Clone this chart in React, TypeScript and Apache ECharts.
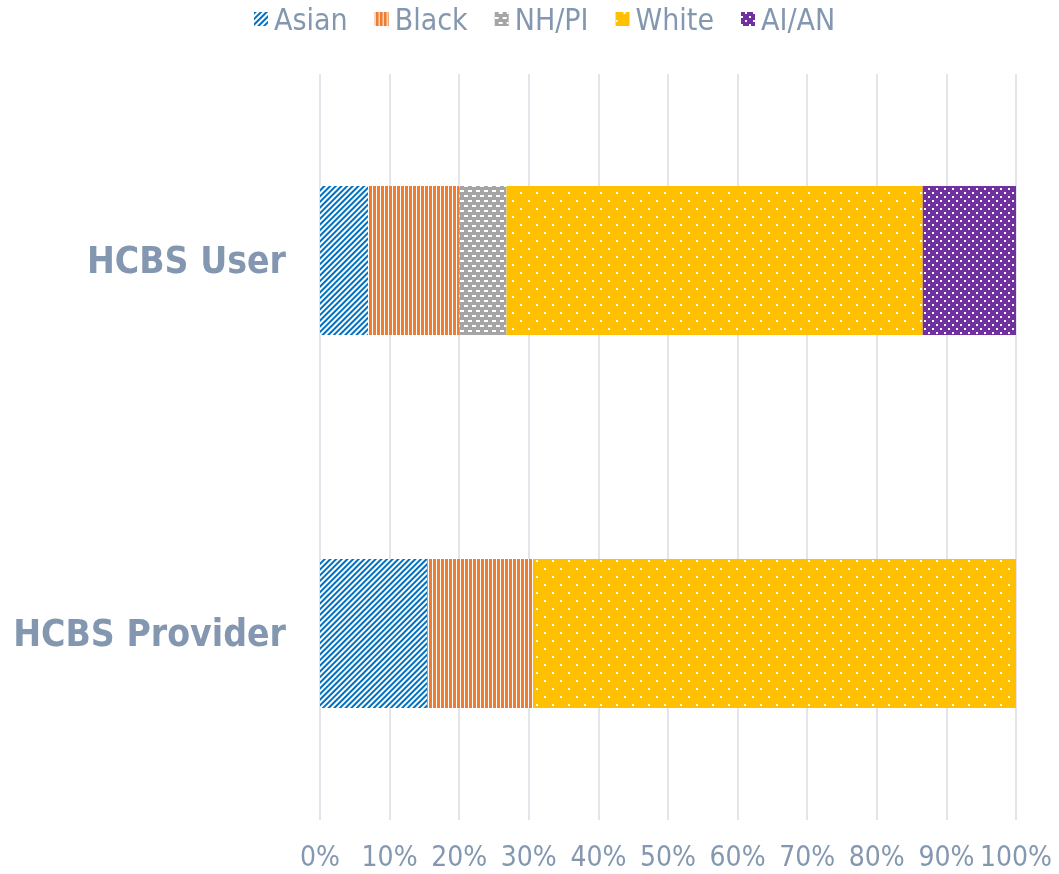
import React, { useEffect, useRef } from "react";
import * as echarts from "echarts";

const categories = ["HCBS User", "HCBS Provider"];
const seriesNames = ["Asian", "Black", "NH/PI", "White", "AI/AN"];
const asian = [6.9, 15.4];
const black = [13.1, 15.3];
const nhpi = [6.8, null];
const white = [59.8, 69.3];
const aian = [13.4, null];
const xTicks = [0, 10, 20, 30, 40, 50, 60, 70, 80, 90, 100];

const TEXT = "#8497B0";
const FONT = "'DejaVu Sans Condensed', 'DejaVu Sans', sans-serif";

export default function App() {
  const ref = useRef<HTMLDivElement>(null);
  useEffect(() => {
    if (!ref.current) return;
    const chart = echarts.init(ref.current, null, { renderer: "svg" });
    const values = [asian, black, nhpi, white, aian];
    const styles: any[] = [
      {
        color: "#ffffff",
        decal: {
          symbol: "rect",
          symbolSize: 1,
          dashArrayX: [1, 0],
          dashArrayY: [2, 2],
          rotation: -Math.PI / 4,
          color: "#0070C0",
        },
      },
      {
        color: "#ED7D31",
        decal: {
          symbol: "rect",
          symbolSize: 1,
          dashArrayX: [1, 3],
          dashArrayY: [1, 0],
          rotation: 0,
          color: "#ffffff",
        },
      },
      {
        color: "#A5A5A5",
        decal: {
          symbol: "rect",
          symbolSize: 1,
          dashArrayX: [[4, 4], [0, 4, 4, 0]],
          dashArrayY: [2, 3],
          rotation: 0,
          color: "#ffffff",
        },
      },
      {
        color: "#FFC000",
        decal: {
          symbol: "rect",
          symbolSize: 1,
          dashArrayX: [[2, 14], [0, 8, 2, 6]],
          dashArrayY: [2, 6],
          rotation: 0,
          color: "#ffffff",
        },
      },
      {
        color: "#7030A0",
        decal: {
          symbol: "rect",
          symbolSize: 1,
          dashArrayX: [[2, 6], [0, 4, 2, 2]],
          dashArrayY: [2, 2],
          rotation: 0,
          color: "#ffffff",
        },
      },
    ];
    chart.setOption({
      animation: false,
      legend: {
        top: -1,
        left: 249,
        itemWidth: 14,
        itemHeight: 14,
        itemGap: 27,
        icon: "rect",
        textStyle: { color: TEXT, fontSize: 30, fontFamily: FONT, padding: [0, 0, 0, 1] },
        data: seriesNames,
      },
      grid: { left: 320, right: 43, top: 74, bottom: 54, containLabel: false },
      xAxis: {
        type: "value",
        min: 0,
        max: 100,
        interval: 10,
        axisLine: { show: false },
        axisTick: { show: false },
        splitLine: { show: true, lineStyle: { color: "#DADDE3", width: 1.5 } },
        axisLabel: {
          formatter: (v: number) => (xTicks.includes(v) ? v + "%" : ""),
          color: TEXT,
          fontSize: 28,
          fontFamily: FONT,
          margin: 22,
        },
      },
      yAxis: {
        type: "category",
        data: categories,
        inverse: true,
        axisLine: { show: false },
        axisTick: { show: false },
        splitLine: { show: false },
        axisLabel: {
          color: TEXT,
          fontSize: 37,
          fontWeight: "bold",
          fontFamily: FONT,
          margin: 34,
        },
      },
      series: seriesNames.map((name, i) => ({
        name,
        type: "bar",
        stack: "total",
        barWidth: "40%",
        data: values[i],
        itemStyle: styles[i],
        emphasis: { disabled: true },
      })),
    });
    return () => chart.dispose();
  }, []);
  return (
    <div
      ref={ref}
      style={{ position: "fixed", left: 0, top: 0, width: 1059, height: 874 }}
    />
  );
}
